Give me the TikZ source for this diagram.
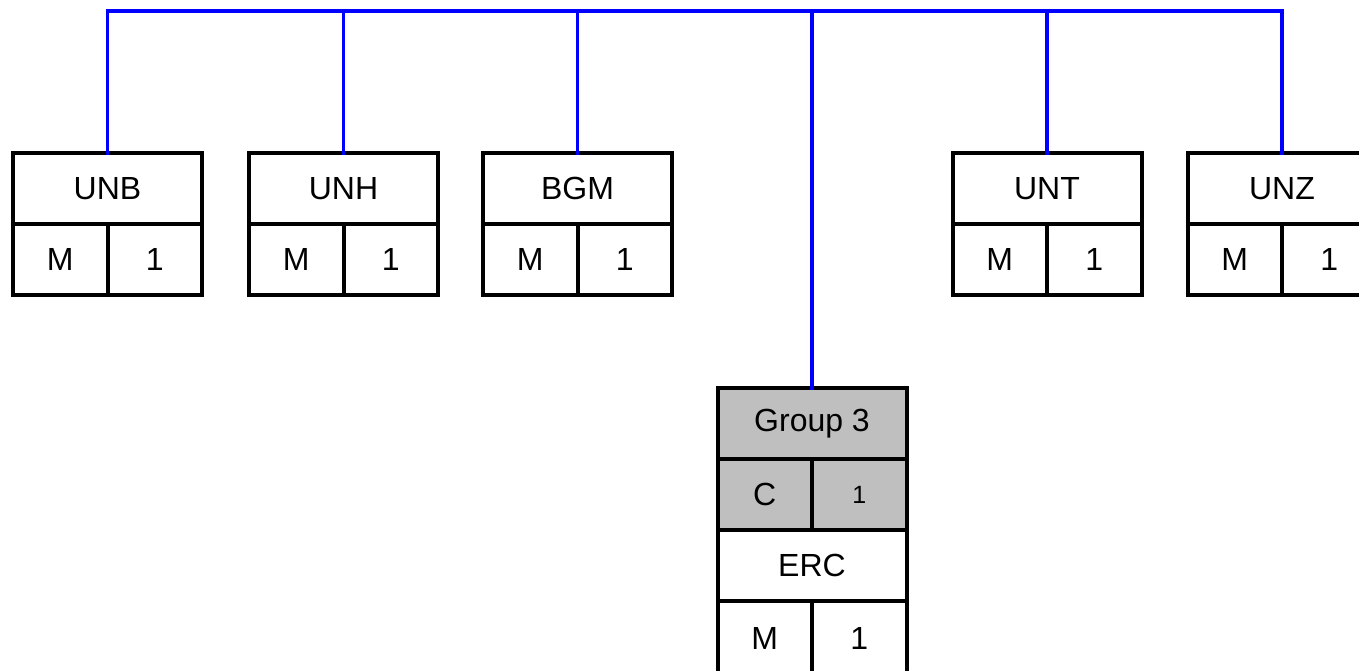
\documentclass[tikz,border=0pt]{standalone}
\usepackage{fontspec}
\setmainfont{Liberation Sans}
\usetikzlibrary{positioning}
\tikzset{
  cell/.style={draw, line width=2pt, inner sep=0pt, outer sep=0pt, minimum height=35.5pt, fill=white, font=\fontsize{16}{18}\selectfont},
  titlecell/.style={cell, minimum width=94.5pt},
  halfcell/.style={cell, minimum width=47.25pt},
  greycell/.style={fill=black!25},
  bus/.style={blue, line width=1.8pt, line cap=rect},
}
% title box with an M | 1 row below it
\def\unitbox(#1)(#2)(#3:#4){%
  \node[titlecell, anchor=north] (#1) at (#2,#3) {#4};
  \node[halfcell, anchor=north west] (#1m) at (#1.south west) {M};
  \node[halfcell, anchor=north east] (#1n) at (#1.south east) {1};
}
\begin{document}
\begin{tikzpicture}[x=0.5pt, y=-0.5pt]
			%%%%% START %%%%%
			\useasboundingbox (0,0) rectangle (1359,670);
			
			\coordinate (busl) at (107.5, 11);
			\coordinate (busr) at (1282, 11);
			
			\unitbox(unb)(107.5)(153:UNB)
			\unitbox(unh)(343.5)(153:UNH)
			\unitbox(bgm)(577.5)(153:BGM)
			\unitbox(unt)(1047)(153:UNT)
			\unitbox(unz)(1282)(153:UNZ)
			
			% group 3
			\node[titlecell, greycell, anchor=north] (grp) at (812, 388) {Group 3};
			\node[halfcell, greycell, anchor=north west] (grpc) at (grp.south west) {C};
			\node[halfcell, greycell, anchor=north east, font=\fontsize{12.5}{14}\selectfont] (grpn) at (grp.south east) {1};
			\node[titlecell, anchor=north] (erc) at (grp.south |- grpc.south) {ERC};
			\node[halfcell, anchor=north west, minimum height=37pt] (ercm) at (erc.south west) {M};
			\node[halfcell, anchor=north east, minimum height=37pt] (ercn) at (erc.south east) {1};
			
			% bus
			\draw[bus] (unb.north) -- (busl) -- (busr) -- (unz.north);
			\draw[bus] (unh.north) -- (unh.north |- busl);
			\draw[bus] (bgm.north) -- (bgm.north |- busl);
			\draw[bus] (grp.north) -- (grp.north |- busl);
			\draw[bus] (unt.north) -- (unt.north |- busl);
			
			%%%%% END %%%%%
\end{tikzpicture}
\end{document}
